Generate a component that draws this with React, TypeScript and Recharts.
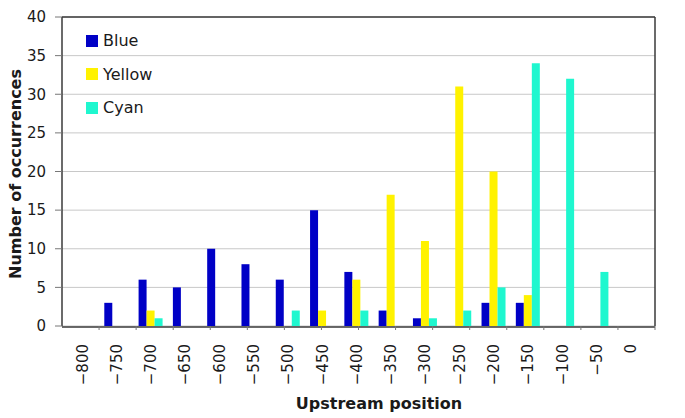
import { BarChart, Bar, XAxis, YAxis, CartesianGrid, Legend } from "recharts"

// upstream positions (categories)
const POSITIONS = [-800, -750, -700, -650, -600, -550, -500, -450, -400, -350, -300, -250, -200, -150, -100, -50, 0]
const BLUE = [0, 3, 6, 5, 10, 8, 6, 15, 7, 2, 1, 0, 3, 3, 0, 0, 0]
const YELLOW = [0, 0, 2, 0, 0, 0, 0, 2, 6, 17, 11, 31, 20, 4, 0, 0, 0]
const CYAN = [0, 0, 1, 0, 0, 0, 2, 0, 2, 0, 1, 2, 5, 34, 32, 7, 0]
const Y_TICKS = [0, 5, 10, 15, 20, 25, 30, 35, 40]
// the original axis has its own minor tick marks, not lined up with the categories
const MARK_TICKS = [1, 2, 3, 4, 5, 6, 7, 8, 9, 10, 11, 12, 13, 14, 15, 16, 17, 18, 19, 20]

const SERIES = [
  { key: "Blue", color: "#0000c6" },
  { key: "Yellow", color: "#fff200" },
  { key: "Cyan", color: "#1ff7cf" },
]

const FONT = "'DejaVu Sans', Verdana, sans-serif"
const INK = "#1a1a1a"
const FRAME = "#3a3a3a"

const data = POSITIONS.map((pos, i) => ({
  pos,
  Blue: BLUE[i],
  Yellow: YELLOW[i],
  Cyan: CYAN[i],
}))

const fmt = (v: number) => (v < 0 ? `\u2212${Math.abs(v)}` : `${v}`)

function XTick(props: any) {
  const { x, y, payload } = props
  const ty = y - 1
  return (
    <text
      x={x}
      y={ty}
      dy="0.36em"
      transform={`rotate(-90 ${x} ${ty})`}
      textAnchor="end"
      fontFamily={FONT}
      fontSize={15}
      fill={INK}
    >
      {fmt(payload.value)}
    </text>
  )
}

function LegendBox() {
  return (
    <div style={{ fontFamily: FONT, fontSize: 16, color: INK }}>
      {SERIES.map((s) => (
        <div key={s.key} style={{ display: "flex", alignItems: "center", height: 33.5 }}>
          <span style={{ width: 12, height: 12, background: s.color, marginRight: 5, display: "inline-block" }} />
          <span>{s.key}</span>
        </div>
      ))}
    </div>
  )
}

export default function App() {
  return (
    <div style={{ position: "absolute", left: 0, top: 0, background: "#fff" }}>
      <BarChart
        width={685}
        height={418}
        data={data}
        margin={{ top: 16, right: 29, left: 0, bottom: 0 }}
        barGap={0}
        barSize={8}
      >
        <CartesianGrid xAxisId="b" vertical={false} stroke="#c8c8c8" strokeWidth={1} />
        <XAxis
          xAxisId="b"
          dataKey="pos"
          height={91}
          padding={{ left: 3, right: 7 }}
          axisLine={{ stroke: FRAME, strokeWidth: 1.5 }}
          tickLine={false}
          tick={<XTick />}
          interval={0}
          tickMargin={12}
          label={{
            content: (p: any) => {
              const vb = p.viewBox
              return (
                <text
                  x={379}
                  y={vb.y + 82}
                  textAnchor="middle"
                  fontFamily={FONT}
                  fontWeight="bold"
                  fontSize={16}
                  fill={INK}
                >
                  Upstream position
                </text>
              )
            },
          }}
        />
        <XAxis
          xAxisId="a"
          type="number"
          domain={[0.06, 20.48]}
          ticks={MARK_TICKS}
          allowDataOverflow
          height={1}
          axisLine={false}
          tickLine={{ stroke: "#777" }}
          tickSize={4}
          tick={() => <g />}
        />
        <XAxis
          xAxisId="top"
          orientation="top"
          dataKey="pos"
          height={1}
          tick={false}
          tickLine={false}
          axisLine={{ stroke: FRAME, strokeWidth: 1.5 }}
        />
        <YAxis
          width={62}
          domain={[0, 40]}
          ticks={Y_TICKS}
          interval={0}
          axisLine={{ stroke: FRAME, strokeWidth: 1.5 }}
          tickLine={{ stroke: "#777" }}
          tickSize={7}
          tickMargin={9}
          tick={{ fontFamily: FONT, fontSize: 15, fill: INK }}
          label={{
            content: (p: any) => {
              const vb = p.viewBox
              const cy = vb.y + vb.height / 2 + 2.5
              return (
                <text
                  x={15.5}
                  y={cy}
                  dy="0.35em"
                  transform={`rotate(-90 15.5 ${cy})`}
                  textAnchor="middle"
                  fontFamily={FONT}
                  fontWeight="bold"
                  fontSize={16}
                  fill={INK}
                >
                  Number of occurrences
                </text>
              )
            },
          }}
        />
        <YAxis
          yAxisId="right"
          orientation="right"
          width={1}
          domain={[0, 40]}
          tick={false}
          tickLine={false}
          axisLine={{ stroke: FRAME, strokeWidth: 1.5 }}
        />
        <Legend
          layout="vertical"
          align="center"
          verticalAlign="middle"
          content={<LegendBox />}
          wrapperStyle={{ left: 86, top: 24, width: "auto", height: "auto" }}
        />
        {SERIES.map((s) => (
          <Bar key={s.key} xAxisId="b" dataKey={s.key} fill={s.color} isAnimationActive={false} />
        ))}
      </BarChart>
    </div>
  )
}
